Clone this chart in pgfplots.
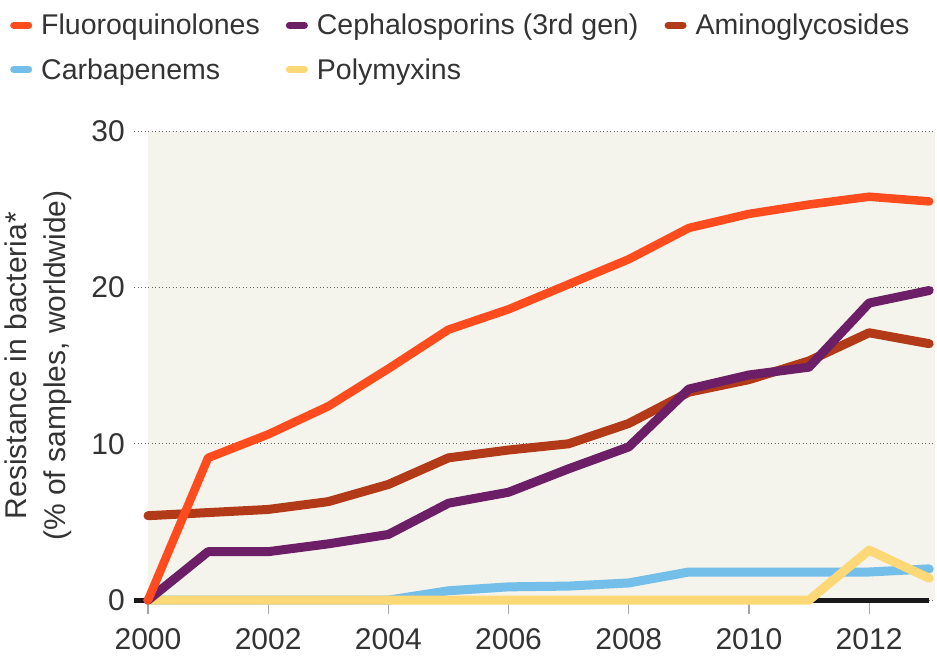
\documentclass[border=0pt]{standalone}
\usepackage{fontspec}
\setmainfont{Liberation Sans}
\usepackage{pgfplots}
\pgfplotsset{compat=1.18}
\definecolor{cFluo}{HTML}{FF4C1F}
\definecolor{cCeph}{HTML}{6C1F66}
\definecolor{cAmino}{HTML}{B33A18}
\definecolor{cCarb}{HTML}{74BEEA}
\definecolor{cPoly}{HTML}{FDD877}
\definecolor{cBg}{HTML}{F4F3EC}
\definecolor{cTxt}{HTML}{333333}
\begin{document}
\begin{tikzpicture}[font=\fontsize{28.5}{34}\selectfont, text=cTxt]
\begin{axis}[
  scale only axis,
  width=787pt, height=469pt,
  xmin=2000, xmax=2013.1, ymin=0, ymax=30,
  clip=false,
  axis line style={draw=none},
  axis background/.style={fill=cBg},
  xtick={2000,2002,2004,2006,2008,2010,2012},
  xticklabels={2000,2002,2004,2006,2008,2010,2012},
  ytick={0,10,20,30},
  yticklabels={0,10,20,30},
  tick align=outside,
  major tick length=14pt,
  xtick style={draw=gray!70, line width=1.2pt},
  ytick style={draw=gray!80!black, line width=1pt, dash pattern=on 1pt off 2.5pt},
  ymajorgrids,
  major grid style={draw=gray!80!black, line width=1pt, dash pattern=on 1pt off 2.5pt},
  tick pos=left,
  tick label style={font=\fontsize{30}{36}\selectfont},
  /pgf/number format/assume math mode=true,
  yticklabel style={inner sep=0pt, xshift=-9pt},
  xticklabel style={inner sep=0pt, yshift=-14pt},
  ylabel={Resistance in bacteria*\\(\% of samples, worldwide)},
  ylabel style={at={(axis description cs:0,0.5)}, anchor=south, inner sep=0pt, yshift=76pt, align=center, font=\fontsize{30}{39}\selectfont},
  legend style={at={(0,1)}, anchor=north west, xshift=-138pt, yshift=119pt, draw=none, fill=none,
    /tikz/every even column/.append style={column sep=24pt},
    /tikz/every odd row/.append style={row sep=18pt}, inner sep=0pt, font=\fontsize{28.5}{34}\selectfont},
  legend columns=3,
  legend cell align=left,
  legend image code/.code={\path[draw=none, fill=none] (0,0) -- (29pt,0); \draw[line width=7pt, line cap=round, #1] (3.5pt,0) -- (18.5pt,0);},
]
\addlegendimage{cFluo}\addlegendentry{Fluoroquinolones}
\addlegendimage{cCeph}\addlegendentry{Cephalosporins (3rd gen)}
\addlegendimage{cAmino}\addlegendentry{Aminoglycosides}
\addlegendimage{cCarb}\addlegendentry{Carbapenems}
\addlegendimage{cPoly}\addlegendentry{Polymyxins}

\path (axis cs:1997.537,-3.84) rectangle (axis cs:2013.13,38.38);

\addplot[forget plot, black!90, line width=5pt] coordinates {(1999.76,0) (2013,0)};

\addplot[forget plot, cAmino, line width=9pt, line join=round, line cap=round] coordinates {
(2000,5.4) (2001,5.6) (2002,5.8) (2003,6.3) (2004,7.4) (2005,9.1) (2006,9.6) (2007,10.0) (2008,11.3) (2009,13.3) (2010,14.1) (2011,15.3) (2012,17.1) (2013,16.4)};
\addplot[forget plot, cCarb, line width=9pt, line join=round, line cap=round] coordinates {
(2000,0) (2001,0) (2002,0) (2003,0) (2004,0) (2005,0.6) (2006,0.85) (2007,0.9) (2008,1.1) (2009,1.8) (2010,1.8) (2011,1.8) (2012,1.8) (2013,2.0)};
\addplot[forget plot, cPoly, line width=9pt, line join=round, line cap=round] coordinates {
(2000,0) (2001,0) (2002,0) (2003,0) (2004,0) (2005,0) (2006,0) (2007,0) (2008,0) (2009,0) (2010,0) (2011,0) (2012,3.2) (2013,1.4)};
\addplot[forget plot, cCeph, line width=9pt, line join=round, line cap=round] coordinates {
(2000,0) (2001,3.1) (2002,3.1) (2003,3.6) (2004,4.2) (2005,6.2) (2006,6.9) (2007,8.4) (2008,9.8) (2009,13.5) (2010,14.4) (2011,14.9) (2012,19.0) (2013,19.8)};
\addplot[forget plot, cFluo, line width=8.5pt, line join=round, line cap=round] coordinates {
(2000,0) (2001,9.1) (2002,10.6) (2003,12.4) (2004,14.8) (2005,17.3) (2006,18.6) (2007,20.2) (2008,21.8) (2009,23.8) (2010,24.7) (2011,25.3) (2012,25.8) (2013,25.5)};
\end{axis}
\end{tikzpicture}
\end{document}
